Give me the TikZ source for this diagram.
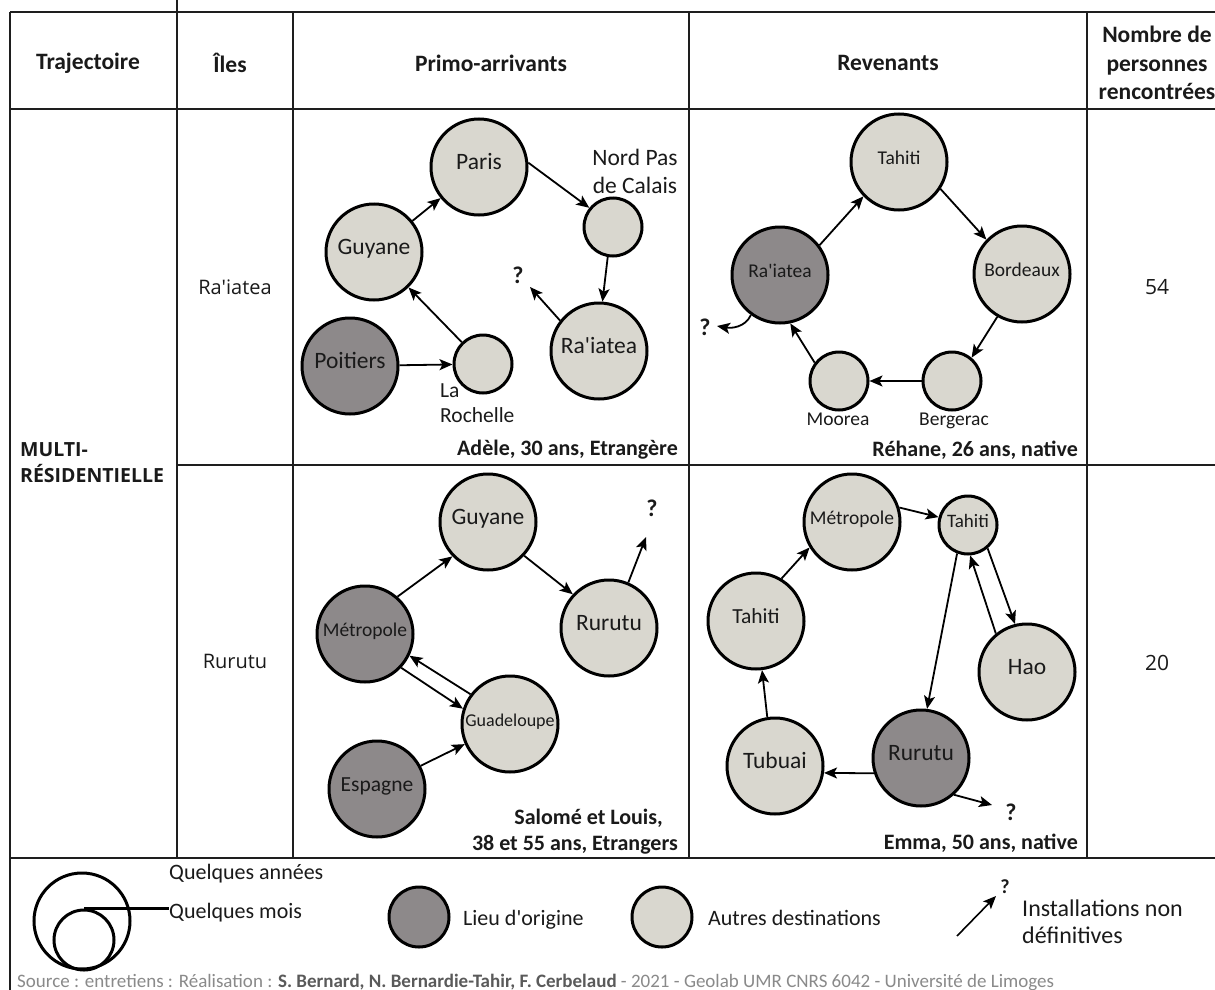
\documentclass[tikz,border=0pt]{standalone}
\usepackage{fontspec}
\setmainfont{Carlito}[Ligatures=TeXOff]
\newfontfamily\osans{Open Sans}[Ligatures=TeXOff]
\usetikzlibrary{arrows.meta}
\definecolor{darkfill}{HTML}{8D898A}
\definecolor{lightfill}{HTML}{D9D7CF}
\definecolor{inkc}{HTML}{1A1A1A}
\definecolor{gridc}{HTML}{1E1E1E}
\definecolor{srcgray}{HTML}{8A8A8A}
\definecolor{srcdark}{HTML}{5A5A5A}
\tikzset{
  town/.style={circle, draw=black, line width=3pt, inner sep=0pt, minimum size=96pt,
    text=inkc, text height=0.68em, text depth=0.22em, font=\fontsize{23.5}{28}\selectfont},
  smalltown/.style={town, minimum size=58pt},
  fillorig/.style={fill=darkfill},
  filldest/.style={fill=lightfill},
  fa/.style={font=\fontsize{18}{22}\selectfont},
  fb/.style={font=\fontsize{19.5}{23}\selectfont},
  fc/.style={font=\fontsize{21.5}{25}\selectfont},
  fd/.style={font=\fontsize{23.5}{28}\selectfont},
  outlabel/.style={inner sep=0pt, text=inkc},
  arr/.style={line width=1.8pt, -{Stealth[length=13pt,width=11pt,inset=3pt]}},
  qmark/.style={font=\bfseries\fontsize{24}{28}\selectfont, inner sep=0pt, text=inkc},
  capt/.style={font=\bfseries\fontsize{22}{27}\selectfont, anchor=east, inner sep=0pt, text=inkc},
  head/.style={font=\bfseries\fontsize{23.5}{28.5}\selectfont, align=center, inner sep=0pt, text=inkc},
  tableline/.style={line width=2pt, draw=gridc},
  legtext/.style={font=\fontsize{22}{26}\selectfont, anchor=west, inner sep=0pt, text=inkc, align=left},
}
\begin{document}
\begin{tikzpicture}[x=1pt,y=-1pt]
\useasboundingbox[fill=white] (0,0) rectangle (1215,990);

% ---------- table ----------
\draw[tableline] (177,0) -- (177,12);
\draw[tableline] (10,12) -- (1215,12);
\draw[tableline] (10,109) -- (1215,109);
\draw[tableline] (177,465) -- (1215,465);
\draw[tableline] (10,858) -- (1215,858);
\draw[tableline] (10,12) -- (10,990);
\foreach \cx in {177,293,689,1087} \draw[tableline] (\cx,12) -- (\cx,858);

% headers
\node[head] (hT) at (88,63) {Trajectoire};
\node[head] (hI) at (230,63) {Îles};
\node[head] (hP) at (491,63) {Primo-arrivants};
\node[head] (hR) at (888,63) {Revenants};
\node[head] (hN) at (1157,63) {Nombre de\\personnes\\rencontrées};

\node[inner sep=0pt, anchor=west, align=left, text=inkc, font=\osans\bfseries\fontsize{19.5}{26}\selectfont] (multi) at (20,463) {MULTI-\\RÉSIDENTIELLE};
\node[inner sep=0pt, text=inkc, font=\osans\fontsize{20}{24}\selectfont] (isl1) at (235,287) {Ra'iatea};
\node[inner sep=0pt, text=inkc, font=\osans\fontsize{20}{24}\selectfont] (isl2) at (235,661) {Rurutu};
\node[inner sep=0pt, text=inkc, font=\osans\fontsize{21}{24}\selectfont] (n1) at (1157,287) {54};
\node[inner sep=0pt, text=inkc, font=\osans\fontsize{21}{24}\selectfont] (n2) at (1157,663) {20};

% ---------- Primo-arrivants, Ra'iatea ----------
\node[town,fillorig] (p1poi) at (350,366) {Poitiers};
\node[smalltown,filldest] (p1lr) at (483,364) {};
\node[town,filldest] (p1guy) at (374,252) {Guyane};
\node[town,filldest] (p1par) at (479,167) {Paris};
\node[smalltown,filldest] (p1npc) at (613,227) {};
\node[town,filldest] (p1rai) at (599,351) {Ra'iatea};
\node[outlabel, fd, align=center] (p1npcl) at (635,171) {Nord Pas\\de Calais};
\node[outlabel, fc, align=left, anchor=west] (p1lrl) at (440,403) {La\\Rochelle};
\node[qmark] (p1q) at (518,275) {?};
\coordinate (p1qe) at (530,287);
\draw[arr] (p1poi) -- (p1lr);
\draw[arr] (p1lr) -- (p1guy);
\draw[arr] (p1guy) -- (p1par);
\draw[arr] (p1par.5) -- (p1npc.141);
\draw[arr] (p1npc.-100) -- (p1rai.86);
\draw[arr] (p1rai.142) -- (p1qe);
\node[capt] (p1cap) at (678,450) {Adèle, 30 ans, Etrangère};

% ---------- Revenants, Ra'iatea ----------
\node[town,fillorig,fb] (r1rai) at (780,275) {Ra'iatea};
\node[town,filldest,fb] (r1tah) at (899,162) {Tahiti};
\node[town,filldest,fb] (r1bor) at (1022,274) {Bordeaux};
\node[smalltown,filldest] (r1ber) at (952,381) {};
\node[smalltown,filldest] (r1moo) at (839,381) {};
\node[outlabel, fb, anchor=base] (r1mool) at (838,425) {Moorea};
\node[outlabel, fb, anchor=base] (r1berl) at (954,425) {Bergerac};
\node[qmark] (r1q) at (705,327) {?};
\coordinate (r1qe) at (717,326);
\draw[arr] (r1rai.37) -- (r1tah.-136);
\draw[arr] (r1tah.-33) -- (r1bor.136);
\draw[arr] (r1bor.-120) -- (r1ber.50);
\draw[arr] (r1ber) -- (r1moo);
\draw[arr] (r1moo.143) -- (r1rai.-78);
\draw[arr] (r1rai.-126) to[out=-115,in=-10] (r1qe);
\node[capt] (r1cap) at (1078,450) {Réhane, 26 ans, native};

% ---------- Primo-arrivants, Rurutu ----------
\node[town,fillorig,fb] (p2met) at (365,634) {Métropole};
\node[town,filldest] (p2guy) at (488,522) {Guyane};
\node[town,filldest] (p2rur) at (609,628) {Rurutu};
\node[town,filldest,fa] (p2gua) at (510,724) {Guadeloupe};
\node[town,fillorig,fc] (p2esp) at (377,789) {Espagne};
\node[qmark] (p2q) at (652,508) {?};
\coordinate (p2qe) at (646,537);
\draw[arr] (p2met.49) -- (p2guy.-136);
\draw[arr] (p2guy.-43) -- (p2rur.137);
\draw[arr] (p2rur.67) -- (p2qe);
\draw[arr] (p2met.-43) -- (p2gua.162);
\draw[arr] (p2gua.143) -- (p2met.-26);
\draw[arr] (p2esp.28) -- (p2gua.-156);
\node[capt] (p2capa) at (663,818) {Salomé et Louis,};
\node[capt] (p2capb) at (678,845) {38 et 55 ans, Etrangers};

% ---------- Revenants, Rurutu ----------
\node[town,filldest,fb] (r2met) at (852,522) {Métropole};
\node[smalltown,filldest,font=\fontsize{19}{22}\selectfont] (r2tahs) at (968,525) {Tahiti};
\node[town,filldest,fc] (r2tah) at (756,621) {Tahiti};
\node[town,filldest] (r2hao) at (1027,672) {Hao};
\node[town,fillorig] (r2rur) at (921,758) {Rurutu};
\node[town,filldest] (r2tub) at (775,766) {Tubuai};
\node[qmark] (r2q) at (1011,812) {?};
\coordinate (r2qe) at (992,805);
\draw[arr] (r2tah.59) -- (r2met.-149);
\draw[arr] (r2met.17) -- (r2tahs.165);
\draw[arr] (r2tahs.-50) -- (r2hao.104);
\draw[arr] (r2hao.129) -- (r2tahs.-86);
\draw[arr] (r2tahs.-111) -- (r2rur.83);
\draw[arr] (r2rur.198) -- (r2tub.-8);
\draw[arr] (r2tub.99) -- (r2tah.-83);
\draw[arr] (r2rur.-48) -- (r2qe);
\node[capt] (r2cap) at (1078,843) {Emma, 50 ans, native};

% ---------- legend ----------
\node[circle, draw=black, line width=3pt, minimum size=96pt, inner sep=0pt] (legbig) at (82,921) {};
\node[circle, draw=black, line width=3pt, minimum size=60pt, inner sep=0pt] (legsmall) at (84,940) {};
\node[legtext] (legan) at (169,874) {Quelques années};
\node[legtext] (legmo) at (169,913) {Quelques mois};
\draw[line width=3pt] (legsmall.north) -- (legsmall.north -| legmo.west);
\node[circle, draw=black, line width=3pt, fill=darkfill, minimum size=60pt, inner sep=0pt] (legorig) at (419,917) {};
\node[legtext] (legorigt) at (463,920) {Lieu d'origine};
\node[circle, draw=black, line width=3pt, fill=lightfill, minimum size=60pt, inner sep=0pt] (legdest) at (662,917) {};
\node[legtext] (legdestt) at (708,918) {Autres destinations};
\coordinate (legas) at (957,936);
\coordinate (legae) at (996,896);
\draw[arr, line width=1.6pt] (legas) -- (legae);
\node[qmark, font=\bfseries\fontsize{20}{24}\selectfont] (legq) at (1005,887) {?};
\node[legtext, font=\fontsize{24}{27}\selectfont] (leginst) at (1022,922) {Installations non\\définitives};

\node[anchor=base west, inner sep=0pt, text=srcgray, font=\fontsize{19}{22}\selectfont] (src) at (17,987)
  {Source : entretiens : Réalisation : \textcolor{srcdark}{\bfseries S. Bernard, N. Bernardie-Tahir, F. Cerbelaud} - 2021 - Geolab UMR CNRS 6042 - Université de Limoges};
\end{tikzpicture}
\end{document}
